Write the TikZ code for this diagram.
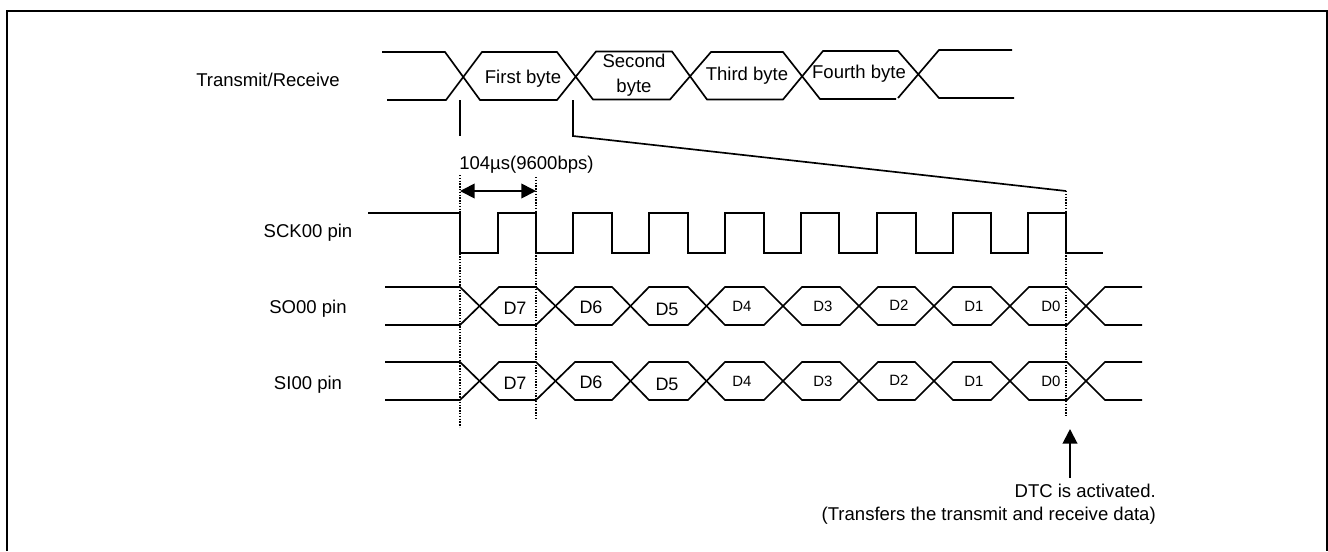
\documentclass[tikz,border=0pt]{standalone}
\usepackage{fontspec}
\setmainfont{Liberation Sans}
\usetikzlibrary{math,arrows.meta}
\tikzset{
  txt/.style={inner sep=0pt, font=\fontsize{13.9pt}{19pt}\selectfont, align=center},
  bigdata/.style={inner sep=0pt, font=\fontsize{13.5pt}{16pt}\selectfont},
  smalldata/.style={inner sep=0pt, font=\fontsize{11.2pt}{14pt}\selectfont},
  sig/.style={line width=1.25pt, line join=miter},
  mark line/.style={line width=1.1pt, densely dotted},
  big tip/.style={line width=1.5pt, {Triangle[length=11pt,width=11pt]}-},
}

\begin{document}
\begin{tikzpicture}[x=0.75pt,y=-0.75pt]
      \tikzmath{\dLeft = 460; \dRight = 536; \dEnd = 1066; \ckHi = 213; \ckLo = 253;}
      \useasboundingbox (0,0) rectangle (1328,551);
      \draw[line width=1.5pt] (7,551) -- (7,11) -- (1327,11) -- (1327,551);

      \node[txt] (lblbus) at (268,80) {Transmit/Receive};
      \draw[sig] (382,52) -- (445,52) -- (480,100) -- (557,100) -- (596,51.5) -- (672,51.5) -- (707,99.5) -- (783,99.5) -- (823,51) -- (898,51) -- (939,98) -- (1014,98);
      \draw[sig] (387,100) -- (446,100) -- (482,52) -- (557,52) -- (593,99.5) -- (670,99.5) -- (711,52) -- (783,52) -- (820,99) -- (896,99);
      \draw[sig] (898,98) -- (939,50) -- (1012,50);
      \node[txt] (first) at (523,79) {First byte};
      \node[txt] (second) at (634,75) {Second\\byte};
      \node[txt] (third) at (747,76) {Third byte};
      \node[txt] (fourth) at (859,74) {Fourth byte};

      \draw[sig] (\dLeft,100) -- (\dLeft,136);
      \draw[sig] (573,100) -- (573,136) -- (\dEnd,191);

      \node[txt, anchor=west] (period) at (459,165) {104µs(9600bps)};
      \draw[mark line] (\dLeft,175) -- (\dLeft,427);
      \draw[mark line] (\dRight,177) -- (\dRight,418);
      \draw[mark line] (\dEnd,191) -- (\dEnd,417);
      \draw[line width=1.3pt, {Triangle[length=11pt,width=11pt]}-{Triangle[length=11pt,width=11pt]}] (\dLeft,191) -- (\dRight,191);

      \node[txt] (lblsck) at (308,233) {SCK00 pin};
      \draw[sig] (368,\ckHi) -- (\dLeft,\ckHi) -- (\dLeft,\ckLo) -- (498,\ckLo)
        \foreach \up/\down in {498/536,573/612,649/688,725/764,801/839,877/916,953/991,1028/1066} {
          -- (\up,\ckLo) -- (\up,\ckHi) -- (\down,\ckHi) -- (\down,\ckLo)
        } -- (1103,\ckLo);

      \node[txt] (lblso) at (308,309) {SO00 pin};
      \node[txt] (lblsi) at (308,385) {SI00 pin};
      \foreach \row/\nm in {287/so,362/si} {
        \begin{scope}[shift={(0,\row)}]
          \draw[sig] (385,0) -- (\dLeft,0) -- (499,38) -- (536,38) -- (575,0) -- (612,0) -- (649,38) -- (688,38) -- (725,0) -- (764,0) -- (802,38) -- (840,38) -- (878,0) -- (915,0) -- (953,38) -- (991,38) -- (1029,0) -- (1067,0) -- (1105,38) -- (1142,38);
          \draw[sig] (385,38) -- (\dLeft,38) -- (499,0) -- (536,0) -- (575,38) -- (612,38) -- (649,0) -- (688,0) -- (725,38) -- (764,38) -- (802,0) -- (840,0) -- (878,38) -- (915,38) -- (953,0) -- (991,0) -- (1029,38) -- (1067,38) -- (1105,0) -- (1142,0);
          \node[bigdata] (\nm7) at (515,21) {D7};
          \node[bigdata] (\nm6) at (591,20) {D6};
          \node[bigdata] (\nm5) at (667,22) {D5};
          \node[smalldata] (\nm4) at (742,19) {D4};
          \node[smalldata] (\nm3) at (823,19) {D3};
          \node[smalldata] (\nm2) at (899,18) {D2};
          \node[smalldata] (\nm1) at (974,19) {D1};
          \node[smalldata] (\nm0) at (1051,19) {D0};
        \end{scope}
      }

      \coordinate (tip) at (1070,429);
      \coordinate (tail) at (1070,478);
      \draw[big tip] (tip) -- (tail);
      \node[txt, anchor=east] (dtc) at (1156,491) {DTC is activated.};
      \node[txt, anchor=east] (xfer) at (1156,516) {(Transfers the transmit and receive data)};
    \end{tikzpicture}
\end{document}
